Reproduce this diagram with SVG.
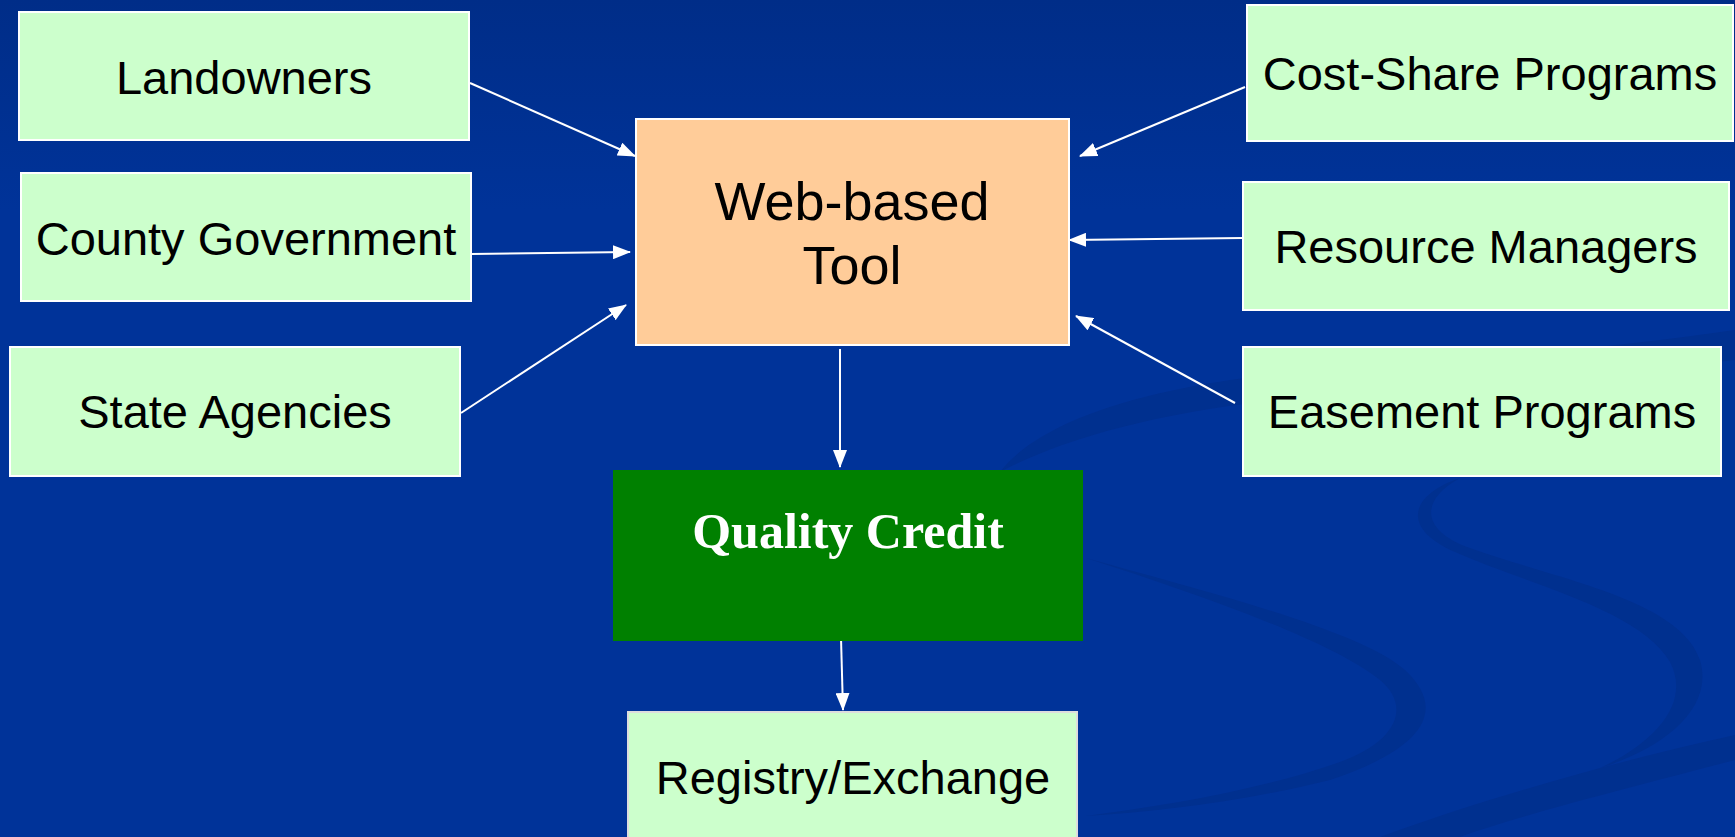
<svg xmlns="http://www.w3.org/2000/svg" width="1735" height="837" viewBox="0 0 1735 837">
<defs>
<linearGradient id="bg" x1="0" y1="0" x2="0" y2="1">
<stop offset="0" stop-color="#002D88"/>
<stop offset="0.25" stop-color="#003399"/>
<stop offset="1" stop-color="#003399"/>
</linearGradient>
<marker id="ah" markerUnits="userSpaceOnUse" markerWidth="18" markerHeight="14" refX="17" refY="7" orient="auto">
<path d="M0,0 L18,7 L0,14 Z" fill="#FFFFFF"/>
</marker>
<style>
.box{fill:#CCFFCC;stroke:#FFFFFF;stroke-width:2}
.tool{fill:#FFCC99;stroke:#FFFFFF;stroke-width:2}
.qc{fill:#008000}
.lbl{font-family:"Liberation Sans",Arial,sans-serif;font-size:47px;fill:#000000;text-anchor:middle}
.big{font-family:"Liberation Sans",Arial,sans-serif;font-size:54px;fill:#000000;text-anchor:middle}
.qct{font-family:"Liberation Serif","Times New Roman",serif;font-weight:bold;font-size:50px;fill:#FFFFFF;text-anchor:middle}
.conn{stroke:#FFFFFF;stroke-width:2;fill:none;marker-end:url(#ah)}
.sw{fill:#00308F}
</style>
</defs>
<rect x="0" y="0" width="1735" height="837" fill="url(#bg)"/>
<g id="background-swooshes">
<path class="sw" d="M1000,472 C1040,420 1150,385 1300,372 C1450,360 1600,350 1735,330 L1735,360 C1600,375 1450,385 1300,398 C1160,410 1060,440 1000,472 Z"/>
<path class="sw" d="M1460,478 C1420,500 1420,530 1470,548 C1560,580 1680,600 1700,660 C1715,710 1660,750 1600,768 C1660,740 1690,700 1670,662 C1640,610 1530,585 1455,552 C1400,528 1410,495 1460,478 Z"/>
<path class="sw" d="M1086,558 C1200,590 1360,630 1405,670 C1450,712 1420,750 1330,780 C1250,800 1160,812 1086,816 C1170,805 1260,790 1340,762 C1400,740 1410,705 1380,680 C1330,640 1200,595 1086,558 Z"/>
<path class="sw" d="M1380,837 C1480,800 1620,760 1735,735 L1735,760 C1640,785 1520,815 1460,837 Z"/>
</g>
<g id="connectors">
<line class="conn" x1="470" y1="83" x2="635" y2="156"/>
<line class="conn" x1="471" y1="254" x2="630" y2="252"/>
<line class="conn" x1="461" y1="413" x2="626" y2="305"/>
<line class="conn" x1="1245" y1="87" x2="1080" y2="156"/>
<line class="conn" x1="1243" y1="238" x2="1069" y2="240"/>
<line class="conn" x1="1235" y1="403" x2="1076" y2="316"/>
<line class="conn" x1="840" y1="349" x2="840" y2="467"/>
<line class="conn" x1="841" y1="638" x2="843" y2="710"/>
</g>
<g id="landowners">
<rect class="box" x="19" y="12" width="450" height="128"/>
<text class="lbl" x="244" y="94">Landowners</text>
</g>
<g id="county-government">
<rect class="box" x="21" y="173" width="450" height="128"/>
<text class="lbl" x="246" y="255">County Government</text>
</g>
<g id="state-agencies">
<rect class="box" x="10" y="347" width="450" height="129"/>
<text class="lbl" x="235" y="428">State Agencies</text>
</g>
<g id="web-based-tool">
<rect class="tool" x="636" y="119" width="433" height="226"/>
<text class="big" x="852" y="220">Web-based</text>
<text class="big" x="852" y="284">Tool</text>
</g>
<g id="cost-share-programs">
<rect class="box" x="1247" y="5" width="486" height="136"/>
<text class="lbl" x="1490" y="90">Cost-Share Programs</text>
</g>
<g id="resource-managers">
<rect class="box" x="1243" y="182" width="486" height="128"/>
<text class="lbl" x="1486" y="263">Resource Managers</text>
</g>
<g id="easement-programs">
<rect class="box" x="1243" y="347" width="478" height="129"/>
<text class="lbl" x="1482" y="428">Easement Programs</text>
</g>
<g id="quality-credit">
<rect class="qc" x="613" y="470" width="470" height="171"/>
<text class="qct" x="848" y="548">Quality Credit</text>
</g>
<g id="registry-exchange">
<rect class="box" x="628" y="712" width="449" height="135" style="stroke:#DDDDDD"/>
<text class="lbl" x="853" y="794">Registry/Exchange</text>
</g>
</svg>
